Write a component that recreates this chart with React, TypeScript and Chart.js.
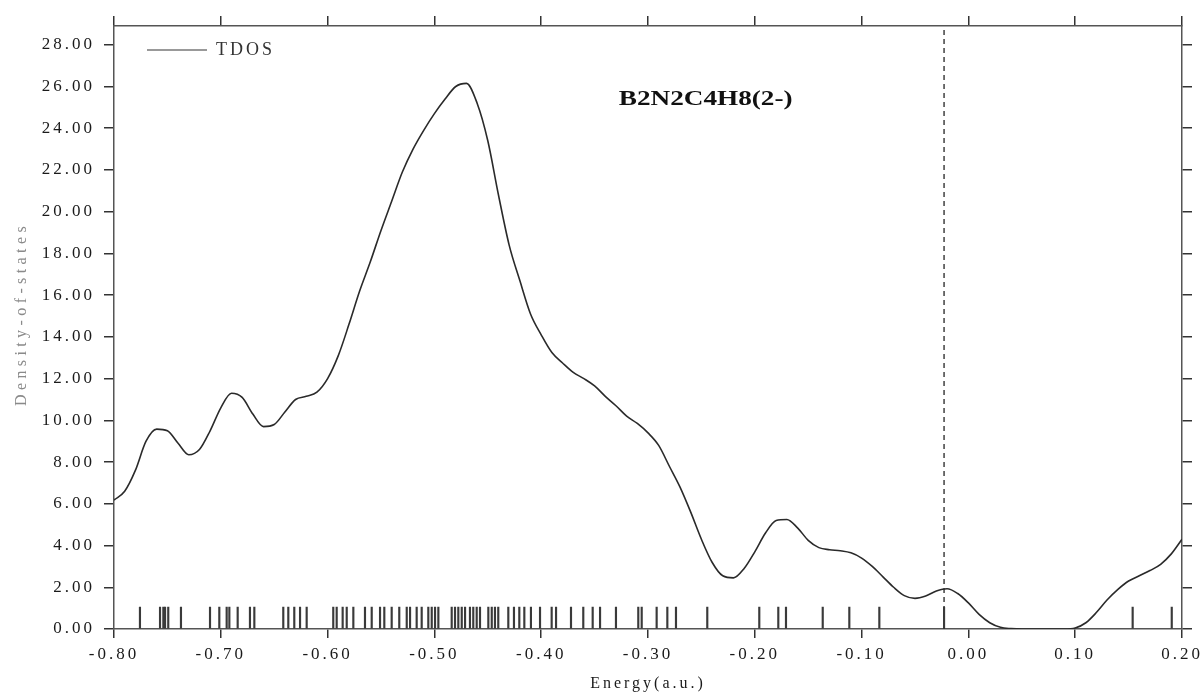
import { useEffect, useRef } from "react";
import { Chart, registerables } from "chart.js";

Chart.register(...registerables);

// ---- data ----
const energies = [
  -0.8, -0.79, -0.78, -0.77, -0.76, -0.75, -0.74, -0.73, -0.72, -0.71,
  -0.7, -0.69, -0.68, -0.67, -0.66, -0.65, -0.64, -0.63, -0.62, -0.61,
  -0.6, -0.59, -0.58, -0.57, -0.56, -0.55, -0.54, -0.53, -0.52, -0.51,
  -0.5, -0.49, -0.48, -0.47, -0.46, -0.45, -0.44, -0.43, -0.42, -0.41,
  -0.4, -0.39, -0.38, -0.37, -0.36, -0.35, -0.34, -0.33, -0.32, -0.31,
  -0.3, -0.29, -0.28, -0.27, -0.26, -0.25, -0.24, -0.23, -0.22, -0.21,
  -0.2, -0.19, -0.18, -0.17, -0.16, -0.15, -0.14, -0.13, -0.12, -0.11,
  -0.1, -0.09, -0.08, -0.07, -0.06, -0.05, -0.04, -0.03, -0.02, -0.01,
  0.0, 0.01, 0.02, 0.03, 0.04, 0.05, 0.06, 0.07, 0.08, 0.09,
  0.1, 0.11, 0.12, 0.13, 0.14, 0.15, 0.16, 0.17, 0.18, 0.19, 0.2,
];

const tdos = [
  6.18, 6.6, 7.6, 9.0, 9.58, 9.5, 8.9, 8.35, 8.6, 9.5,
  10.6, 11.3, 11.1, 10.3, 9.7, 9.8, 10.4, 11.0, 11.15, 11.35,
  12.0, 13.1, 14.6, 16.2, 17.6, 19.1, 20.5, 21.9, 23.0, 23.9,
  24.7, 25.4, 26.0, 26.15, 25.2, 23.4, 20.8, 18.4, 16.7, 15.1,
  14.1, 13.25, 12.75, 12.3, 12.0, 11.65, 11.15, 10.7, 10.2, 9.85,
  9.4, 8.8, 7.8, 6.8, 5.6, 4.3, 3.2, 2.55, 2.45, 2.9,
  3.7, 4.6, 5.2, 5.25, 4.85, 4.25, 3.9, 3.8, 3.75, 3.65,
  3.4, 3.0, 2.5, 2.0, 1.6, 1.47, 1.58, 1.82, 1.93, 1.7,
  1.25, 0.7, 0.3, 0.08, 0.02, 0, 0, 0, 0, 0,
  0.05, 0.3, 0.8, 1.4, 1.9, 2.3, 2.55, 2.8, 3.1, 3.6, 4.3,
];

const stickEnergies = [
  -0.7757, -0.7569, -0.7538, -0.7522, -0.7492, -0.7373, -0.7101, -0.7014,
  -0.6945, -0.692, -0.6842, -0.6727, -0.6686, -0.6415, -0.6368, -0.6312,
  -0.6258, -0.6196, -0.5947, -0.5915, -0.5859, -0.5821, -0.5759, -0.565,
  -0.5587, -0.5509, -0.5469, -0.54, -0.5329, -0.5259, -0.5228, -0.5166,
  -0.5119, -0.5057, -0.5025, -0.4994, -0.4963, -0.4838, -0.4807, -0.4776,
  -0.4744, -0.4713, -0.4667, -0.4636, -0.4604, -0.4573, -0.4495, -0.4463,
  -0.4433, -0.4402, -0.4308, -0.4255, -0.4205, -0.4158, -0.4096, -0.4011,
  -0.3902, -0.3861, -0.3721, -0.3606, -0.3518, -0.3449, -0.33, -0.3091,
  -0.3059, -0.2919, -0.2819, -0.2738, -0.2445, -0.1958, -0.178, -0.1708,
  -0.1364, -0.1115, -0.0834, -0.0228, 0.1538, 0.1904,
];

const stickHeight = 1.05;
const homoEnergy = -0.0228;

const xMin = -0.8;
const xMax = 0.2;
const xStep = 0.1;
const yMin = 0;
const yMax = 28.9;
const yStep = 2;

const seriesLabel = "TDOS";
const moleculeLabel = "B2N2C4H8(2-)";
const xTitle = "Energy(a.u.)";
const yTitle = "Density-of-states";

// ---- styling ----
const FAMILY = '"Liberation Serif", "Times New Roman", serif';
const AXIS_COLOR = "#555";
const TICK_COLOR = "#333";
const LABEL_COLOR = "#1a1a1a";

const fmt = (v: number) => (Math.abs(v) < 1e-9 ? 0 : v).toFixed(2);

const decorPlugin = {
  id: "decor",
  beforeDraw(chart: any) {
    const ctx = chart.ctx;
    ctx.letterSpacing = "3px";
    const lg = chart.legend;
    const ca = chart.chartArea;
    if (lg && ca) {
      const w = lg.right - lg.left;
      const h = lg.bottom - lg.top;
      lg.left = ca.left + 23;
      lg.right = lg.left + w;
      lg.top = ca.top + 5;
      lg.bottom = lg.top + h;
    }
  },
  afterDraw(chart: any) {
    const ctx = chart.ctx;
    // y-axis title
    ctx.save();
    ctx.letterSpacing = "4.4px";
    ctx.translate(21.5, 314);
    ctx.rotate(-Math.PI / 2);
    ctx.font = `16px ${FAMILY}`;
    ctx.fillStyle = "#8a8a8a";
    ctx.textAlign = "center";
    ctx.textBaseline = "middle";
    ctx.fillText(yTitle, 0, 0);
    ctx.restore();
    // molecule label
    ctx.save();
    ctx.letterSpacing = "0px";
    const xs = chart.scales.x;
    const ys = chart.scales.y;
    const cx = xs.getPixelForValue(-0.246);
    const cy = ys.getPixelForValue(25.35);
    ctx.translate(cx, cy);
    ctx.scale(1.36, 1);
    ctx.font = `bold 20px ${FAMILY}`;
    ctx.fillStyle = "#111";
    ctx.textAlign = "center";
    ctx.textBaseline = "middle";
    ctx.fillText(moleculeLabel, 0, 0);
    ctx.restore();
  },
};

export default function App() {
  const canvasRef = useRef<HTMLCanvasElement | null>(null);

  useEffect(() => {
    document.body.style.margin = "0";
    const canvas = canvasRef.current;
    if (!canvas) return;

    const gridBase = {
      drawOnChartArea: false,
      drawTicks: true,
      offset: false,
      color: TICK_COLOR,
      lineWidth: 1.5,
    };
    const border = { display: true, color: AXIS_COLOR, width: 1.5 };
    const tickFont = { family: FAMILY, size: 17 };

    const chart = new Chart(canvas, {
      type: "line",
      data: {
        datasets: [
          {
            type: "line",
            label: seriesLabel,
            data: energies.map((e, i) => ({ x: e, y: tdos[i] })),
            borderColor: "#2a2a2a",
            borderWidth: 1.6,
            pointRadius: 0,
            cubicInterpolationMode: "monotone",
            fill: false,
            xAxisID: "x",
            yAxisID: "y",
          } as any,
          {
            type: "bar",
            label: "MO levels",
            data: stickEnergies.map((e) => ({ x: e, y: stickHeight })),
            backgroundColor: "#3a3a3a",
            borderWidth: 0,
            barThickness: 1.5,
            xAxisID: "x",
            yAxisID: "y",
          } as any,
          {
            type: "line",
            label: "HOMO",
            data: [
              { x: homoEnergy, y: yMin },
              { x: homoEnergy, y: yMax },
            ],
            borderColor: "#111",
            borderWidth: 1.2,
            borderDash: [5, 4],
            pointRadius: 0,
            fill: false,
            xAxisID: "x",
            yAxisID: "y",
          } as any,
        ],
      },
      options: {
        animation: false,
        responsive: true,
        maintainAspectRatio: false,
        events: [],
        layout: { padding: 0 },
        scales: {
          x: {
            type: "linear",
            position: "bottom",
            min: xMin,
            max: xMax,
            offset: false,
            ticks: {
              stepSize: xStep,
              includeBounds: false,
              autoSkip: false,
              maxRotation: 0,
              minRotation: 0,
              padding: 6,
              color: LABEL_COLOR,
              font: tickFont,
              callback: (v: any) => fmt(Number(v)),
            },
            grid: { ...gridBase, tickLength: 9 },
            border,
            title: {
              display: true,
              text: xTitle,
              color: LABEL_COLOR,
              font: { family: FAMILY, size: 16 },
              padding: { top: 0, bottom: 1 },
            },
            afterFit: (s: any) => {
              s.height = 65;
            },
          },
          xTop: {
            type: "linear",
            position: "top",
            min: xMin,
            max: xMax,
            offset: false,
            ticks: { stepSize: xStep, includeBounds: false, display: false },
            grid: { ...gridBase, tickLength: 10 },
            border,
            afterFit: (s: any) => {
              s.height = 26;
            },
          },
          y: {
            type: "linear",
            position: "left",
            min: yMin,
            max: yMax,
            ticks: {
              stepSize: yStep,
              includeBounds: false,
              autoSkip: false,
              padding: 9,
              color: LABEL_COLOR,
              font: tickFont,
              callback: (v: any) => fmt(Number(v)),
            },
            grid: { ...gridBase, tickLength: 10 },
            border,
            afterFit: (s: any) => {
              s.width = 114;
            },
          },
          yRight: {
            type: "linear",
            position: "right",
            min: yMin,
            max: yMax,
            ticks: { stepSize: yStep, includeBounds: false, display: false },
            grid: { ...gridBase, tickLength: 10 },
            border,
            afterFit: (s: any) => {
              s.width = 22;
            },
          },
        } as any,
        plugins: {
          legend: {
            display: true,
            position: "chartArea" as any,
            align: "start",
            labels: {
              usePointStyle: true,
              pointStyle: "line",
              pointStyleWidth: 60,
              padding: 10,
              color: "#333",
              font: { family: FAMILY, size: 18 },
              generateLabels: (c: any) =>
                (Chart.defaults.plugins.legend.labels as any)
                  .generateLabels(c)
                  .filter((it: any) => it.datasetIndex === 0)
                  .map((it: any) => ({
                    ...it,
                    strokeStyle: "#777",
                    fillStyle: "#777",
                    lineWidth: 1.3,
                    lineDash: [],
                  })),
            },
          },
          tooltip: { enabled: false },
        },
      },
      plugins: [decorPlugin],
    });

    return () => {
      chart.destroy();
    };
  }, []);

  return (
    <div style={{ width: 1204, height: 694, position: "relative" }}>
      <canvas ref={canvasRef} />
    </div>
  );
}
